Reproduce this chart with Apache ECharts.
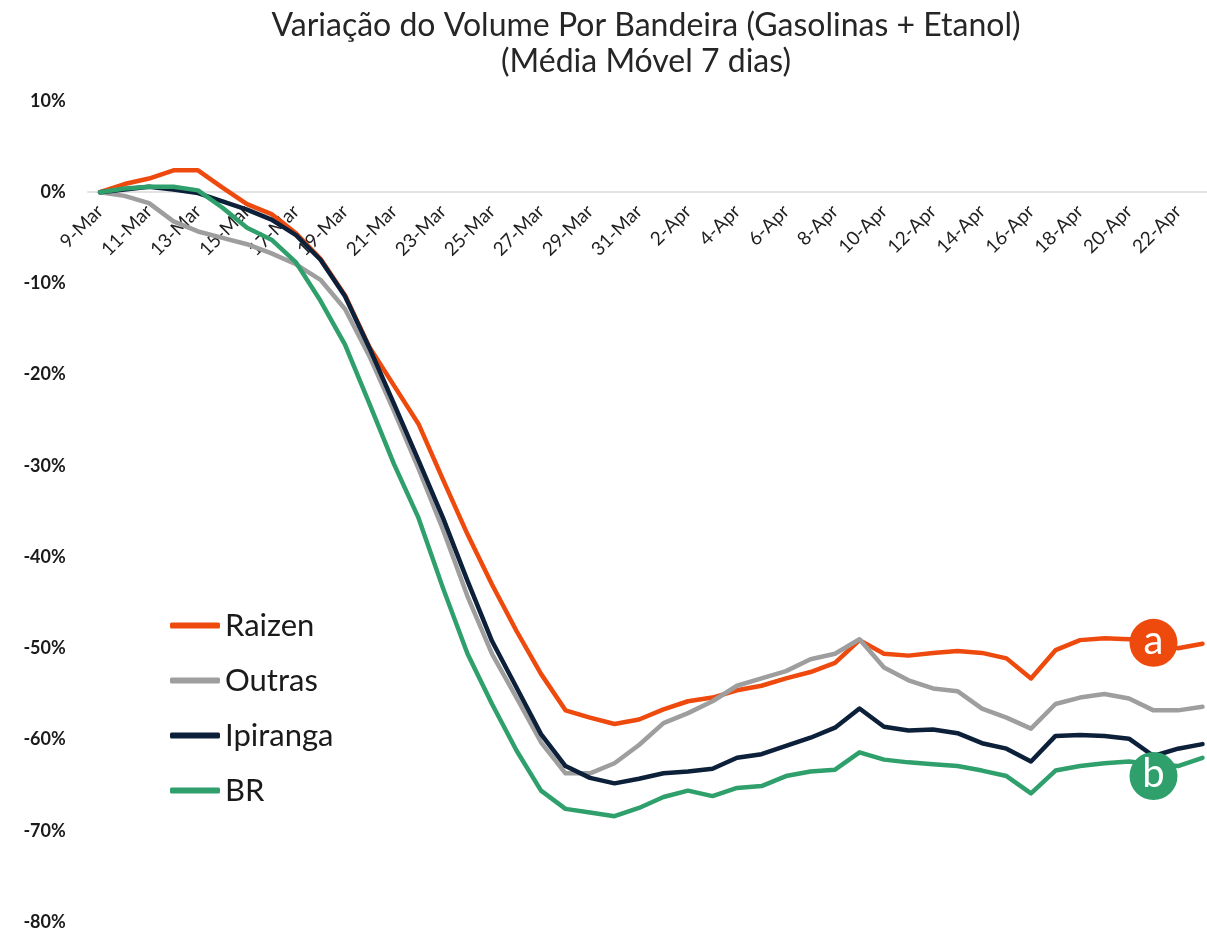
<!DOCTYPE html>
<html>
<head>
<meta charset="utf-8">
<script src="https://cdn.jsdelivr.net/npm/echarts@6/dist/echarts.min.js"></script>
<style>
html,body{margin:0;padding:0;background:#fff;}
#chart{width:1207px;height:931px;}
</style>
</head>
<body>
<div id="chart"></div>
<script>
const categories = [
  '9-Mar','10-Mar','11-Mar','12-Mar','13-Mar','14-Mar','15-Mar','16-Mar','17-Mar','18-Mar',
  '19-Mar','20-Mar','21-Mar','22-Mar','23-Mar','24-Mar','25-Mar','26-Mar','27-Mar','28-Mar',
  '29-Mar','30-Mar','31-Mar','1-Apr','2-Apr','3-Apr','4-Apr','5-Apr','6-Apr','7-Apr',
  '8-Apr','9-Apr','10-Apr','11-Apr','12-Apr','13-Apr','14-Apr','15-Apr','16-Apr','17-Apr',
  '18-Apr','19-Apr','20-Apr','21-Apr','22-Apr','23-Apr'
];
const raizen = [0,0.9,1.5,2.4,2.4,0.5,-1.3,-2.4,-4.5,-7.3,-11.3,-17.0,-21.2,-25.4,-31.5,-37.5,-43.0,-48.1,-52.8,-56.8,-57.6,-58.3,-57.8,-56.7,-55.8,-55.4,-54.6,-54.1,-53.3,-52.6,-51.6,-49.1,-50.6,-50.8,-50.5,-50.3,-50.5,-51.1,-53.3,-50.2,-49.1,-48.9,-49.0,-49.2,-50.0,-49.5];
const outras = [0,-0.4,-1.2,-3.2,-4.3,-5.0,-5.7,-6.7,-7.9,-9.6,-12.8,-18.0,-24.0,-30.3,-37.0,-44.3,-50.6,-55.4,-60.3,-63.7,-63.7,-62.6,-60.6,-58.2,-57.1,-55.8,-54.1,-53.3,-52.5,-51.2,-50.6,-49.0,-52.1,-53.5,-54.4,-54.7,-56.6,-57.6,-58.8,-56.1,-55.4,-55.0,-55.5,-56.8,-56.8,-56.4];
const ipiranga = [0,0.3,0.6,0.3,-0.1,-1.0,-1.9,-3.0,-4.7,-7.4,-11.4,-17.1,-23.2,-29.4,-35.7,-42.6,-49.2,-54.3,-59.4,-62.9,-64.2,-64.8,-64.3,-63.7,-63.5,-63.2,-62.0,-61.6,-60.7,-59.8,-58.7,-56.6,-58.6,-59.0,-58.9,-59.3,-60.4,-61.0,-62.4,-59.6,-59.5,-59.6,-59.9,-61.8,-61.0,-60.5];
const br = [0,0.4,0.6,0.6,0.2,-1.7,-3.9,-5.2,-7.7,-11.9,-16.7,-23.2,-29.8,-35.7,-43.4,-50.6,-56.1,-61.2,-65.6,-67.6,-68.0,-68.4,-67.5,-66.3,-65.6,-66.2,-65.3,-65.1,-64.0,-63.5,-63.3,-61.4,-62.2,-62.5,-62.7,-62.9,-63.4,-64.0,-65.9,-63.4,-62.9,-62.6,-62.4,-62.7,-62.9,-62.0];
const seriesNames = ['Raizen','Outras','Ipiranga','BR'];
const colors = ['#EE4A0E','#9E9E9E','#0C203A','#2FA06C'];
const annotA = {label:'a', index:43, value:-49.4};
const annotB = {label:'b', index:43, value:-64.0};
const yMin = -80, yMax = 10, yStep = 10;

const chart = echarts.init(document.getElementById('chart'), null, {renderer:'canvas'});
const FONT = 'Lato, "Noto Sans", sans-serif';

const gridTop = 101, gridBottom = 9, H = 931;
const plotH = H - gridTop - gridBottom;
const zeroOffset = -plotH * (0 - yMin) / (yMax - yMin);

function mk(name, data, color, annot){
  const s = {
    name, type:'line', data, color,
    symbol:'none', smooth:false,
    lineStyle:{width:4.5, color, cap:'round', join:'round'},
    emphasis:{disabled:true}
  };
  if (annot) {
    s.markPoint = {
      z: 10,
      symbol:'circle', symbolSize:48,
      itemStyle:{color},
      label:{show:true, formatter:annot.label, color:'#fff', fontSize:40, fontFamily:FONT, offset:[0,-2]},
      data:[{coord:[annot.index, annot.value]}]
    };
  }
  return s;
}

chart.setOption({
  animation:false,
  backgroundColor:'#fff',
  textStyle:{fontFamily:FONT},
  title:{
    text:'Variação do Volume Por Bandeira (Gasolinas + Etanol)\n(Média Móvel 7 dias)',
    left:641, top:3, textAlign:'center',
    textStyle:{fontSize:32, fontWeight:'normal', color:'#262626', lineHeight:36, fontFamily:FONT}
  },
  legend:{
    orient:'vertical', left:165, top:605,
    itemWidth:50, itemHeight:6, itemGap:24,
    icon:'roundRect',
    data:seriesNames,
    textStyle:{fontSize:31, lineHeight:31, color:'#1a1a1a', fontFamily:FONT}
  },
  grid:{left:87.75, right:-7.75, top:gridTop, bottom:gridBottom, containLabel:false, outerBoundsMode:'none'},
  xAxis:{
    type:'category', data:categories, boundaryGap:true,
    position:'bottom', offset:zeroOffset,
    axisLine:{onZero:false, lineStyle:{color:'#d9d9d9', width:1.5}},
    axisTick:{show:false},
    axisLabel:{interval:1, rotate:45, fontSize:19, color:'#1f1f1f', margin:16, fontFamily:FONT},
    splitLine:{show:false}
  },
  yAxis:{
    type:'value', min:yMin, max:yMax, interval:yStep,
    axisLine:{show:false}, axisTick:{show:false}, splitLine:{show:false},
    axisLabel:{formatter:'{value}%', fontSize:18, fontWeight:'bold', color:'#1a1a1a', margin:22, fontFamily:FONT}
  },
  series:[
    mk('Raizen', raizen, colors[0], annotA),
    mk('Outras', outras, colors[1]),
    mk('Ipiranga', ipiranga, colors[2]),
    mk('BR', br, colors[3], annotB)
  ]
});
</script>
</body>
</html>
